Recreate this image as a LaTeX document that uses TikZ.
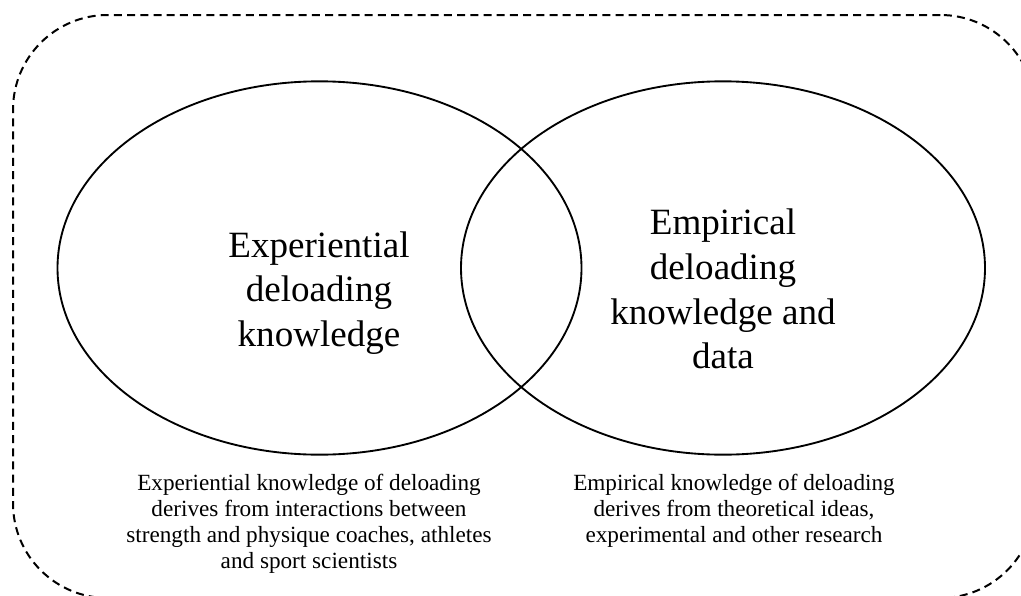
\documentclass[tikz,border=0pt]{standalone}
\usepackage{fontspec}
\setmainfont{Liberation Serif}
\usetikzlibrary{shapes.geometric}
\tikzset{
  framebox/.style={draw, line width=1.5pt, dash pattern=on 6pt off 3.9pt, rounded corners=71pt,
    minimum width=766.5pt, minimum height=437.25pt, inner sep=0pt},
  circlebox/.style={draw, ellipse, line width=1.4pt, minimum width=393pt, minimum height=280pt, inner sep=0pt},
  bigtext/.style={align=center, inner sep=0pt, font=\fontsize{27.8}{33.6}\selectfont},
  captext/.style={align=center, inner sep=0pt, font=\fontsize{17.4}{19.4}\selectfont}
}
\begin{document}
\begin{tikzpicture}[x=0.75pt,y=-0.75pt]
\useasboundingbox (0,0) rectangle (1021,596);
\clip (0,0) rectangle (1021,596);
\node[framebox] (frame) at (524,306.5) {};
\node[circlebox] (left) at (319.5,268) {};
\node[circlebox] (right) at (723,268) {};
\node[bigtext] (lefttext) at (319,293) {Experiential\\deloading\\knowledge};
\node[bigtext] (righttext) at (723,289) {Empirical\\deloading\\knowledge and\\data};
\node[captext] (leftcap) at (309,523.5) {Experiential knowledge of deloading\\derives from interactions between\\strength and physique coaches, athletes\\and sport scientists};
\node[captext] (rightcap) at (734,511) {Empirical knowledge of deloading\\derives from theoretical ideas,\\experimental and other research};
\end{tikzpicture}
\end{document}
